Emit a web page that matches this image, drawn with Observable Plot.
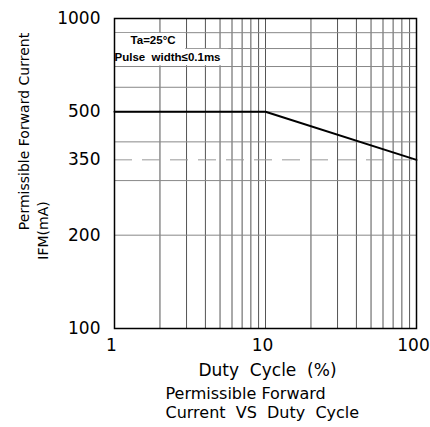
<!DOCTYPE html>
<html>
<head>
<meta charset="utf-8">
<script src="https://cdn.jsdelivr.net/npm/d3@7"></script>
<script src="https://cdn.jsdelivr.net/npm/@observablehq/plot@0.6"></script>
<style>
  html, body { margin: 0; padding: 0; background: white; }
  #chart svg { display: block; }
</style>
</head>
<body>
<div id="chart"></div>
<script>
// ---- data ----
const dutyCycle = [1, 10, 100];          // Duty Cycle (%)
const forwardCurrent = [500, 500, 350];  // IFM (mA)
const xTickValues = [1, 10, 100];
const yTickValues = [100, 200, 350, 500, 1000];
const xGridValues = [2, 3, 4, 5, 6, 7, 8, 9, 10, 20, 30, 40, 50, 60, 70, 80, 90];
const yGridValues = [200, 300, 400, 500, 600, 700, 800, 900];
const dashedLevel = [350];
const noteLines = ["Ta=25°C", "Pulse  width≤0.1ms"];
const xLabel = "Duty  Cycle  (%)";
const titleText = "Permissible Forward\nCurrent  VS  Duty  Cycle";

const curve = dutyCycle.map((d, i) => ({duty: d, ifm: forwardCurrent[i]}));

const font = "'DejaVu Sans', Verdana, sans-serif";
const noteFont = "'Liberation Sans', Arial, sans-serif";

const chart = Plot.plot({
  width: 430,
  height: 427,
  marginLeft: 114,
  marginRight: 14,
  marginTop: 18,
  marginBottom: 99,
  style: {background: "white", fontFamily: font, color: "black", overflow: "visible"},
  x: {type: "log", domain: [1, 100], axis: null},
  y: {type: "log", domain: [100, 1000], axis: null},
  marks: [
    Plot.ruleX(xGridValues, {stroke: "#555", strokeWidth: 1}),
    Plot.ruleY(yGridValues, {stroke: "#888", strokeWidth: 1}),
    Plot.ruleY(dashedLevel, {stroke: "#999", strokeWidth: 1, strokeDasharray: "18,10"}),
    // white note boxes
    Plot.rect([0], {x1: 1, x2: 3, y1: 700, y2: 900, fill: "white", inset: 0.8}),
    Plot.rect([0], {x1: 1, x2: 5.8, y1: 700, y2: 800, fill: "white", inset: 0.8}),
    Plot.text([noteLines[0]], {x: 1.8, y: 850, text: d => d, fontSize: 11.5, fontWeight: "bold", fill: "black", fontFamily: noteFont}),
    Plot.text([noteLines[1]], {x: 1, y: 750, text: d => d, textAnchor: "start", fontSize: 11.5, fontWeight: "bold", fill: "black", fontFamily: noteFont, style: "white-space: pre"}),
    Plot.line(curve, {x: "duty", y: "ifm", stroke: "black", strokeWidth: 2}),
    Plot.frame({stroke: "black", strokeWidth: 1.5}),
    Plot.axisX(xTickValues, {tickSize: 0, tickPadding: 10, dx: -3, tickFormat: d => String(d), fontSize: 17, label: null}),
    Plot.axisY(yTickValues, {tickSize: 0, tickPadding: 14, tickFormat: d => String(d), fontSize: 17, label: null}),
    // axis labels
    Plot.text(["Permissible Forward Current"], {frameAnchor: "left", textAnchor: "middle", text: d => d, rotate: -90, dx: -90, dy: -42, fontSize: 14, fill: "black"}),
    Plot.text(["IFM(mA)"], {frameAnchor: "left", textAnchor: "middle", text: d => d, rotate: -90, dx: -71, dy: 57, fontSize: 14, fill: "black"}),
    Plot.text([xLabel], {frameAnchor: "bottom", textAnchor: "middle", lineAnchor: "top", text: d => d, dx: 2, dy: 35, fontSize: 17, fill: "black", style: "white-space: pre"}),
    Plot.text([titleText], {frameAnchor: "bottom-left", textAnchor: "start", lineAnchor: "top", lineHeight: 1.17, text: d => d, dx: 51, dy: 57, fontSize: 16, fill: "black", style: "white-space: pre"})
  ]
});

document.getElementById("chart").appendChild(chart);
</script>
</body>
</html>
